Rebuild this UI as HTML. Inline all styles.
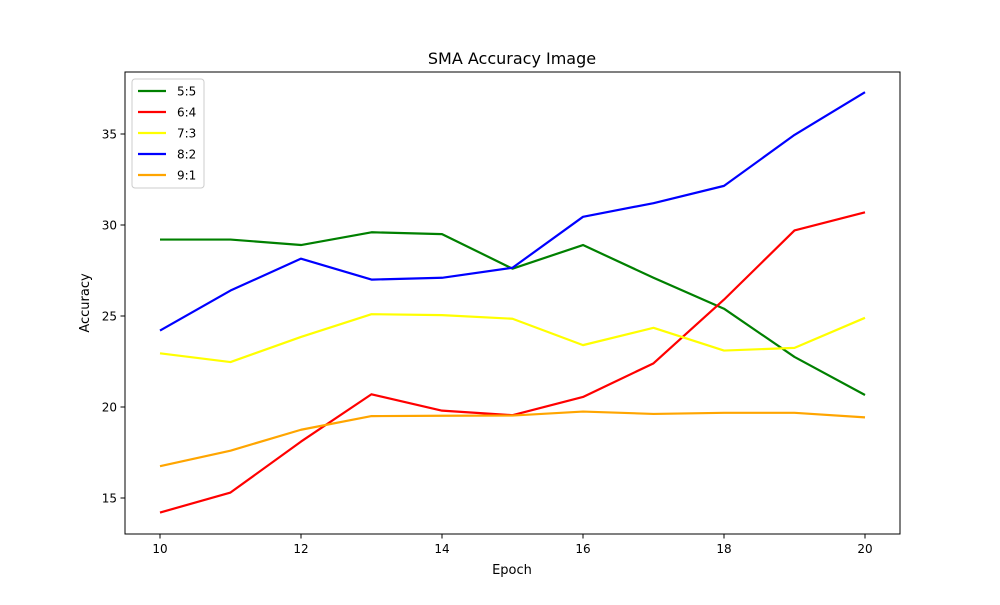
<!DOCTYPE html>
<html><head><meta charset="utf-8"><style>
body{margin:0;background:#fff;font-family:"Liberation Sans","DejaVu Sans",sans-serif;}
svg text{font-family:"DejaVu Sans","Liberation Sans",sans-serif;}
</style></head><body>
<svg id="chart" width="1000" height="600" xmlns="http://www.w3.org/2000/svg">
<rect width="1000" height="600" fill="#fff"/>
<text x="512" y="64" font-size="16" text-anchor="middle">SMA Accuracy Image</text>
<g id="plot"></g>
<rect x="125" y="72" width="775" height="462" fill="none" stroke="#000" stroke-width="1"/>
<text x="512" y="574" font-size="13" text-anchor="middle">Epoch</text>
<text transform="translate(89,303) rotate(-90)" font-size="13" text-anchor="middle">Accuracy</text>
</svg>
<script>
const epochs=[10,11,12,13,14,15,16,17,18,19,20];
const seriesNames=["5:5","6:4","7:3","8:2","9:1"];
const seriesColors=["green","red","yellow","blue","orange"];
const s55=[29.2,29.2,28.9,29.6,29.5,27.6,28.9,27.1,25.4,22.75,20.66];
const s64=[14.2,15.3,18.1,20.7,19.8,19.55,20.55,22.4,25.9,29.7,30.7];
const s73=[22.95,22.47,23.85,25.1,25.05,24.85,23.4,24.35,23.1,23.25,24.9];
const s82=[24.2,26.4,28.15,27.0,27.1,27.65,30.45,31.2,32.15,34.95,37.3];
const s91=[16.75,17.6,18.75,19.5,19.52,19.53,19.75,19.62,19.68,19.68,19.43];
const xTicks=[10,12,14,16,18,20];
const yTicks=[15,20,25,30,35];
const allSeries=[s55,s64,s73,s82,s91];
const NS="http://www.w3.org/2000/svg";
function xs(v){return 160+(v-10)*70.5;}
function ys(v){return 498-(v-15)*18.2;}
const g=document.getElementById('plot');
function mk(t,a){const e=document.createElementNS(NS,t);for(const k in a)e.setAttribute(k,a[k]);g.appendChild(e);return e;}
xTicks.forEach(t=>{
 const l=mk('line',{x1:xs(t),x2:xs(t),y1:534,y2:538.5,stroke:'#000'});
 
 
 const tx=mk('text',{x:xs(t),y:553,'font-size':12,'text-anchor':'middle'});tx.textContent=t;
 
 
});
yTicks.forEach(t=>{
 const l=mk('line',{x1:120.5,x2:125,y1:ys(t),y2:ys(t),stroke:'#000'});
 
 
 const tx=mk('text',{x:117,y:ys(t)+4.5,'font-size':12,'text-anchor':'end'});tx.textContent=t;
 
 
});
allSeries.forEach((s,i)=>{
 const p=mk('polyline',{points:s.map((v,j)=>xs(epochs[j])+','+ys(v)).join(' '),fill:'none',stroke:seriesColors[i],'stroke-width':2.2,'stroke-linejoin':'round'});
 
 
});
const lb=mk('rect',{x:132,y:79,width:72,height:109,rx:3,fill:'#fff',stroke:'#ccc'});


seriesNames.forEach((n,i)=>{
 const y=91+i*21;
 const l=mk('line',{x1:138,x2:166,y1:y,y2:y,stroke:seriesColors[i],'stroke-width':2.2});
 
 
 const t=mk('text',{x:177,y:y+4.5,'font-size':12});t.textContent=n;
 
 
});
</script>
</body></html>
